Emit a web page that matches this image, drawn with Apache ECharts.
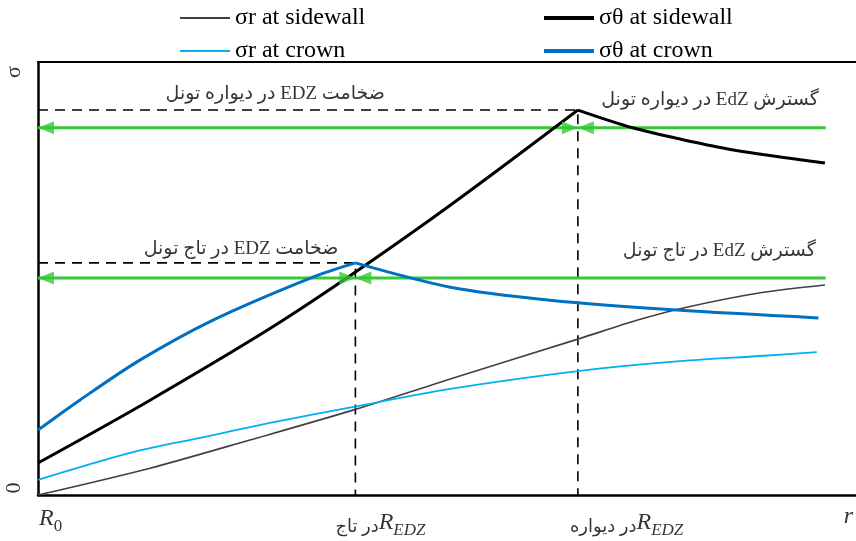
<!DOCTYPE html>
<html>
<head>
<meta charset="utf-8">
<script src="https://cdn.jsdelivr.net/npm/echarts@6/dist/echarts.min.js"></script>
<style>
html, body { margin: 0; padding: 0; background: #fff; }
#chart { width: 856px; height: 541px; }
</style>
</head>
<body>
<div id="chart"></div>
<script>
// Radial distance r (0 = tunnel boundary R0) and stress σ, both in relative units (0–100).
const sigmaRSidewall = [[0, 0], [13.7, 6.2], [25.9, 12.7], [38.5, 19.6], [50.4, 26.8], [66.0, 36.0], [73.3, 40.4], [78.9, 43.2], [88.3, 46.7], [96.2, 48.5]];
const sigmaTSidewallRise = [[0, 7.4], [13.7, 21.9], [30.0, 40.4], [47.9, 63.5], [66.0, 88.9]];
const sigmaTSidewallFall = [[66.0, 88.9], [72.7, 84.8], [78.5, 82.2], [85.0, 79.7], [96.2, 76.7]];
const sigmaRCrown = [[0, 3.5], [11.6, 9.9], [19.8, 13.2], [29.0, 16.9], [38.4, 20.3], [50.4, 24.5], [66.0, 28.6], [78.5, 30.9], [88.3, 32.1], [95.2, 33.0]];
const sigmaTCrownRise = [[0, 15.0], [5.1, 21.9], [12.5, 31.2], [21.4, 40.4], [33.3, 50.1], [38.8, 53.6]];
const sigmaTCrownFall = [[38.8, 53.6], [50.4, 48.0], [62.6, 45.0], [78.1, 42.7], [95.4, 40.9]];

// EDZ radius and peak tangential stress at crown and sidewall
const rEdzCrown = 38.8, peakCrown = 53.6;
const rEdzWall = 66.0, peakWall = 88.9;
// levels and far end of the EDZ extent arrows
const arrowLevelCrown = 50.1, arrowLevelWall = 84.8;
const rArrowEnd = 96.3;

const seriesNames = ['σr at sidewall', 'σθ at sidewall', 'σr at crown', 'σθ at crown'];
const annotationTexts = ['ضخامت EDZ در دیواره تونل', 'گسترش EdZ در دیواره تونل', 'ضخامت EDZ در تاج تونل', 'گسترش EdZ در تاج تونل'];
const edzLabelsFa = ['در تاج', 'در دیواره'];
const axisNames = { y: 'σ', zero: '0', origin: 'R', originSub: '0', x: 'r', edz: 'R', edzSub: 'EDZ' };

const SERIF = "'Liberation Serif', 'Times New Roman', serif";
const MIXED = "'Liberation Serif', 'DejaVu Sans', sans-serif";
const rtl = s => '\u202B' + s + '\u202C';

const GREEN = '#35C935';

function curve(name, data, color, width) {
  return {
    type: 'line', name, data, smooth: 0.3, symbol: 'none', showSymbol: false,
    lineStyle: { color, width }, itemStyle: { color }, z: 4, silent: true
  };
}

function dashed(r, peak) {
  return {
    type: 'line', data: [[0, peak], [r, peak], [r, 0]], symbol: 'none', silent: true,
    lineStyle: { color: '#000', width: 1.6, type: [10, 7] }, z: 2
  };
}

function greenLine(data) {
  return {
    type: 'line', data, symbol: 'none', silent: true,
    lineStyle: { color: GREEN, width: 3 }, z: 3
  };
}

function textPoint(x, y, label) {
  return { value: [x, y], label: Object.assign({ show: true, color: '#000' }, label) };
}

const edzRich = {
  fa: { fontFamily: MIXED, fontSize: 18, color: '#000', verticalAlign: 'bottom', padding: [0, 0, 3, 0] },
  r: { fontFamily: SERIF, fontStyle: 'italic', fontSize: 24, color: '#000', verticalAlign: 'bottom', padding: [0, 0, 4, 0] },
  sub: { fontFamily: SERIF, fontStyle: 'italic', fontSize: 17, color: '#000', verticalAlign: 'bottom' },
  sub0: { fontFamily: SERIF, fontSize: 17, color: '#000', verticalAlign: 'bottom' }
};

const labels = [
  // axis titles and tick marks (offsets of rotated labels are given in the rotated frame)
  textPoint(0, 100, { formatter: axisNames.y, fontFamily: SERIF, fontSize: 22, rotate: 90, offset: [-10, -24] }),
  textPoint(0, 0, { formatter: axisNames.zero, fontFamily: SERIF, fontSize: 22, rotate: 90, offset: [7, -24] }),
  textPoint(0, 0, {
    formatter: '{r|' + axisNames.origin + '}{sub0|' + axisNames.originSub + '}', align: 'left', offset: [1, 26],
    rich: edzRich
  }),
  textPoint(100, 0, { formatter: axisNames.x, fontFamily: SERIF, fontStyle: 'italic', fontSize: 24, align: 'right', offset: [-3, 22] }),
  textPoint(rEdzCrown, 0, {
    formatter: '{fa|' + rtl(edzLabelsFa[0]) + '}{r|' + axisNames.edz + '}{sub|' + axisNames.edzSub + '}',
    align: 'left', offset: [-20, 30], rich: edzRich
  }),
  textPoint(rEdzWall, 0, {
    formatter: '{fa|' + rtl(edzLabelsFa[1]) + '}{r|' + axisNames.edz + '}{sub|' + axisNames.edzSub + '}',
    align: 'left', offset: [-8, 30], rich: edzRich
  }),
  // EDZ thickness / extent captions
  textPoint(rEdzWall, peakWall, { formatter: rtl(annotationTexts[0]), fontFamily: MIXED, fontSize: 19, align: 'right', offset: [-193, -16] }),
  textPoint(rArrowEnd, arrowLevelWall, { formatter: rtl(annotationTexts[1]), fontFamily: MIXED, fontSize: 19, align: 'right', offset: [-7, -28] }),
  textPoint(rEdzCrown, peakCrown, { formatter: rtl(annotationTexts[2]), fontFamily: MIXED, fontSize: 19, align: 'right', offset: [-17, -14] }),
  textPoint(rArrowEnd, arrowLevelCrown, { formatter: rtl(annotationTexts[3]), fontFamily: MIXED, fontSize: 19, align: 'right', offset: [-10, -27] })
];

const legendText = { fontFamily: SERIF, fontSize: 24, color: '#000', lineHeight: 26 };

const option = {
  animation: false,
  backgroundColor: '#fff',
  grid: { left: 38, right: 0, top: 62, bottom: 46, containLabel: false },
  legend: [
    { data: [seriesNames[0], seriesNames[2]], icon: 'rect', left: 175, top: 0, orient: 'vertical', itemGap: 7, itemWidth: 50, itemHeight: 2, textStyle: legendText, selectedMode: false },
    { data: [seriesNames[1], seriesNames[3]], icon: 'rect', left: 539, top: 0, orient: 'vertical', itemGap: 7, itemWidth: 50, itemHeight: 4, textStyle: legendText, selectedMode: false }
  ],
  xAxis: [
    { type: 'value', min: 0, max: 100, position: 'bottom', axisLine: { show: true, onZero: false, lineStyle: { color: '#000', width: 2.5 } }, axisTick: { show: false }, axisLabel: { show: false }, splitLine: { show: false } },
    { type: 'value', min: 0, max: 100, position: 'top', axisLine: { show: true, onZero: false, lineStyle: { color: '#000', width: 2 } }, axisTick: { show: false }, axisLabel: { show: false }, splitLine: { show: false } }
  ],
  yAxis: { type: 'value', min: 0, max: 100, axisLine: { show: true, onZero: false, lineStyle: { color: '#000', width: 2.5 } }, axisTick: { show: false }, axisLabel: { show: false }, splitLine: { show: false } },
  series: [
    dashed(rEdzWall, peakWall),
    dashed(rEdzCrown, peakCrown),
    curve(seriesNames[0], sigmaRSidewall, '#404040', 1.6),
    curve(seriesNames[1], sigmaTSidewallRise, '#000000', 3),
    curve(seriesNames[1], sigmaTSidewallFall, '#000000', 3),
    curve(seriesNames[2], sigmaRCrown, '#00B0F0', 1.8),
    curve(seriesNames[3], sigmaTCrownRise, '#0070C0', 3),
    curve(seriesNames[3], sigmaTCrownFall, '#0070C0', 3),
    greenLine([[0, arrowLevelWall], [rEdzWall, arrowLevelWall]]),
    greenLine([[rEdzWall, arrowLevelWall], [rArrowEnd, arrowLevelWall]]),
    greenLine([[0, arrowLevelCrown], [rEdzCrown, arrowLevelCrown]]),
    greenLine([[rEdzCrown, arrowLevelCrown], [rArrowEnd, arrowLevelCrown]]),
    // arrowheads pointing toward smaller r
    {
      type: 'scatter', silent: true, z: 5, symbol: 'triangle', symbolSize: [13, 16], symbolRotate: 90, symbolOffset: [8, 0],
      itemStyle: { color: GREEN },
      data: [[0, arrowLevelWall], [rEdzWall, arrowLevelWall], [0, arrowLevelCrown], [rEdzCrown, arrowLevelCrown]]
    },
    // arrowheads pointing toward larger r
    {
      type: 'scatter', silent: true, z: 5, symbol: 'triangle', symbolSize: [13, 16], symbolRotate: -90, symbolOffset: [-8, 0],
      itemStyle: { color: GREEN },
      data: [[rEdzWall, arrowLevelWall], [rEdzCrown, arrowLevelCrown]]
    },
    {
      type: 'scatter', silent: true, z: 6, symbolSize: 0, data: labels
    }
  ]
};

const chart = echarts.init(document.getElementById('chart'), null, { renderer: 'canvas' });
chart.setOption(option);
</script>
</body>
</html>
